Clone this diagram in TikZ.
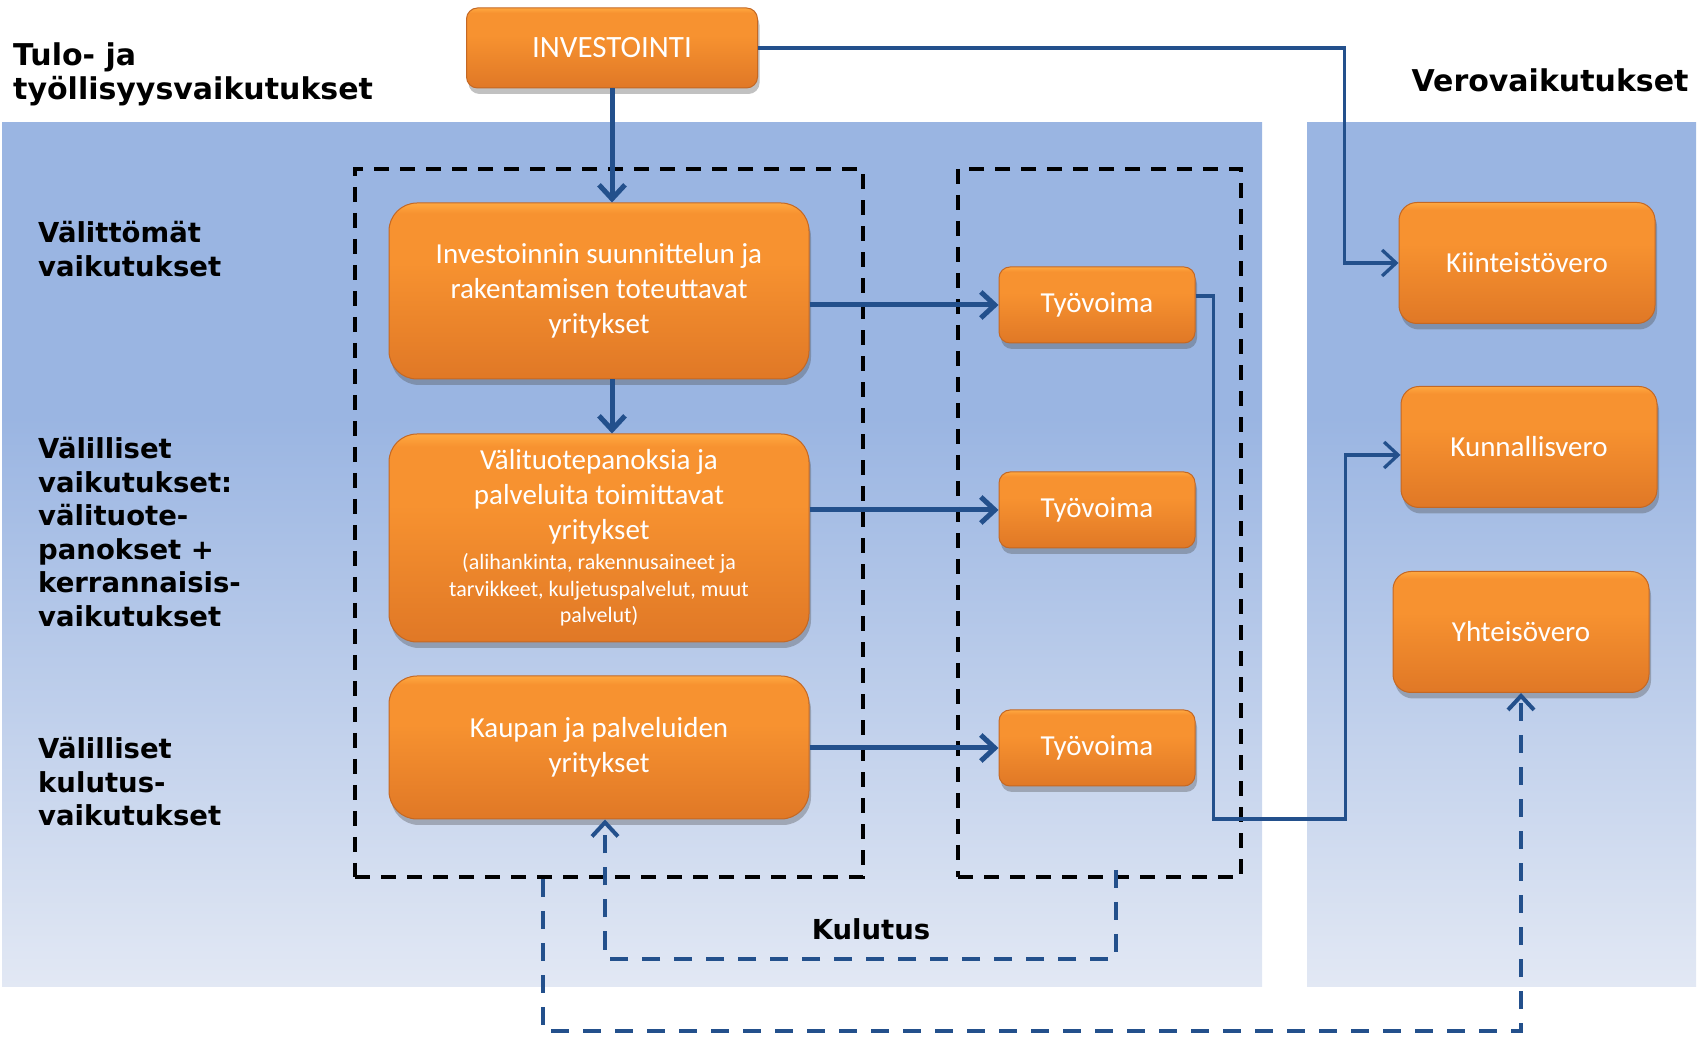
\documentclass[tikz,border=0pt]{standalone}
\usepackage{fontspec}
\setmainfont{Carlito}
\newfontfamily\headfont{DejaVu Sans}
\usetikzlibrary{positioning, arrows.meta, shadows, calc}

\definecolor{paneltop}{RGB}{154,181,226}
\definecolor{panelbot}{RGB}{226,232,244}
\definecolor{boxtop}{RGB}{255,168,64}
\definecolor{boxmid}{RGB}{247,146,48}
\definecolor{boxbot}{RGB}{224,120,38}
\definecolor{boxedge}{RGB}{196,104,36}
\definecolor{linkblue}{RGB}{35,80,140}

\pgfdeclareverticalshading{panelshade}{100bp}{color(0bp)=(panelbot); color(25bp)=(panelbot); color(58bp)=(paneltop); color(100bp)=(paneltop)}
\pgfdeclareverticalshading{boxshade}{100bp}{color(0bp)=(boxbot); color(25bp)=(boxbot); color(58bp)=(boxmid); color(72bp)=(boxmid); color(75bp)=(boxtop); color(100bp)=(boxtop)}

\newcommand\smalltxt{\fontsize{22}{26.5}\selectfont}

\begin{document}
\begin{tikzpicture}[x=1pt, y=1pt,
    frame/.style={rectangle, draw=black, line width=4pt, dash pattern=on 15pt off 11pt, inner sep=0pt},
    firm/.style={rectangle, rounded corners=28pt, minimum width=420pt, align=center, text=white, draw=boxedge, line width=1pt, shade, shading=boxshade, drop shadow={shadow xshift=2pt, shadow yshift=-6pt, opacity=0.35, fill=black!70}, font=\fontsize{29}{35}\selectfont},
    labour/.style={firm, rounded corners=11pt, minimum width=196pt, minimum height=76pt},
    tax/.style={firm, rounded corners=18pt, minimum width=256pt, minimum height=121pt},
    heading/.style={anchor=west, align=left, inner sep=0pt, font=\headfont\bfseries\fontsize{27.5}{33.5}\selectfont},
    arrow/.style={draw=linkblue, line width=5pt, -{Straight Barb[length=14pt, width=26pt]}},
    thinarrow/.style={arrow, line width=3.3pt},
    flow/.style={arrow, line width=4pt, dash pattern=on 18pt off 14pt},
]
\useasboundingbox (0,0) rectangle (1702,1036);

% Background panels
\shade[shading=panelshade] (2,50) rectangle (1262,913);
\shade[shading=panelshade] (1307,50) rectangle (1696,913);

% Dashed groups
\node[frame, minimum width=508pt, minimum height=708pt] (firmBox) at (609,513) {};
\node[frame, minimum width=283pt, minimum height=708pt] (labourBox) at (1099.5,513) {};

% Firms
\node[firm, minimum width=291pt, minimum height=80pt, rounded corners=11pt, font=\fontsize{31}{35}\selectfont] (invest) at (612,988) {INVESTOINTI};
\node[firm, minimum height=176pt, below=114pt of invest, xshift=-13pt] (planFirms) {Investoinnin suunnittelun ja\\rakentamisen toteuttavat\\yritykset};
\node[firm, minimum height=208pt, below=54pt of planFirms] (supplyFirms) {Välituotepanoksia ja\\palveluita toimittavat\\yritykset\\[-5pt]\smalltxt (alihankinta, rakennusaineet ja\\[-8.5pt]\smalltxt tarvikkeet, kuljetuspalvelut, muut\\[-8.5pt]\smalltxt palvelut)};
\node[firm, minimum height=143pt, below=33pt of supplyFirms] (tradeFirms) {Kaupan ja palveluiden\\yritykset};

% Labour
\node[labour, right=189pt of planFirms, yshift=-14pt] (labour1) {Työvoima};
\node[labour, below=128pt of labour1] (labour2) {Työvoima};
\node[labour, below=161pt of labour2] (labour3) {Työvoima};

% Taxes
\node[tax] (propTax) at (1527,773) {Kiinteistövero};
\node[tax, below=62pt of propTax, xshift=2pt] (muniTax) {Kunnallisvero};
\node[tax, below=63pt of muniTax, xshift=-8pt] (corpTax) {Yhteisövero};

% Headings
\node[heading, font=\headfont\bfseries\fontsize{30}{34}\selectfont] (title) at (13,962) {Tulo- ja\\työllisyysvaikutukset};
\node[heading, anchor=center, font=\headfont\bfseries\fontsize{30}{34}\selectfont] (taxTitle) at (1550,956) {Verovaikutukset};
\node[heading] (directLbl) at (38,787) {Välittömät\\vaikutukset};
\node[heading] (indirectLbl) at (38,504) {Välilliset\\vaikutukset:\\välituote-\\panokset +\\kerrannaisis-\\vaikutukset};
\node[heading] (consLbl) at (38,254) {Välilliset\\kulutus-\\vaikutukset};
\node[heading, anchor=center] (kulutusLbl) at (871,107) {Kulutus};

% Arrows between firms and labour
\draw[arrow] (invest.south) -- (invest.south |- planFirms.north);
\draw[arrow] (planFirms.south -| invest.south) -- (supplyFirms.north -| invest.south);
\draw[arrow] (planFirms.east |- labour1.west) -- (labour1.west);
\draw[arrow] (supplyFirms.east |- labour2.west) -- (labour2.west);
\draw[arrow] (tradeFirms.east |- labour3.west) -- (labour3.west);

% Arrows to taxes
\draw[thinarrow] (invest.east) -| ($(propTax.west)+(-54,0)$) -- (propTax.west);
\draw[thinarrow] ($(labour1.east)+(0,9)$) -| ($(labour3.east)+(18,-71)$) -| ($(muniTax.west)+(-55,-8)$) -- ($(muniTax.west)+(0,-8)$);

% Consumption loops
\draw[flow] ($(labourBox.south)+(16,9)$) |- ($(tradeFirms.south)+(6,-139)$) -- ($(tradeFirms.south)+(6,0)$);
\draw[flow] ($(firmBox.south)+(-66,0)$) |- ($(corpTax.south)+(0,-338)$) -- (corpTax.south);

\end{tikzpicture}
\end{document}
